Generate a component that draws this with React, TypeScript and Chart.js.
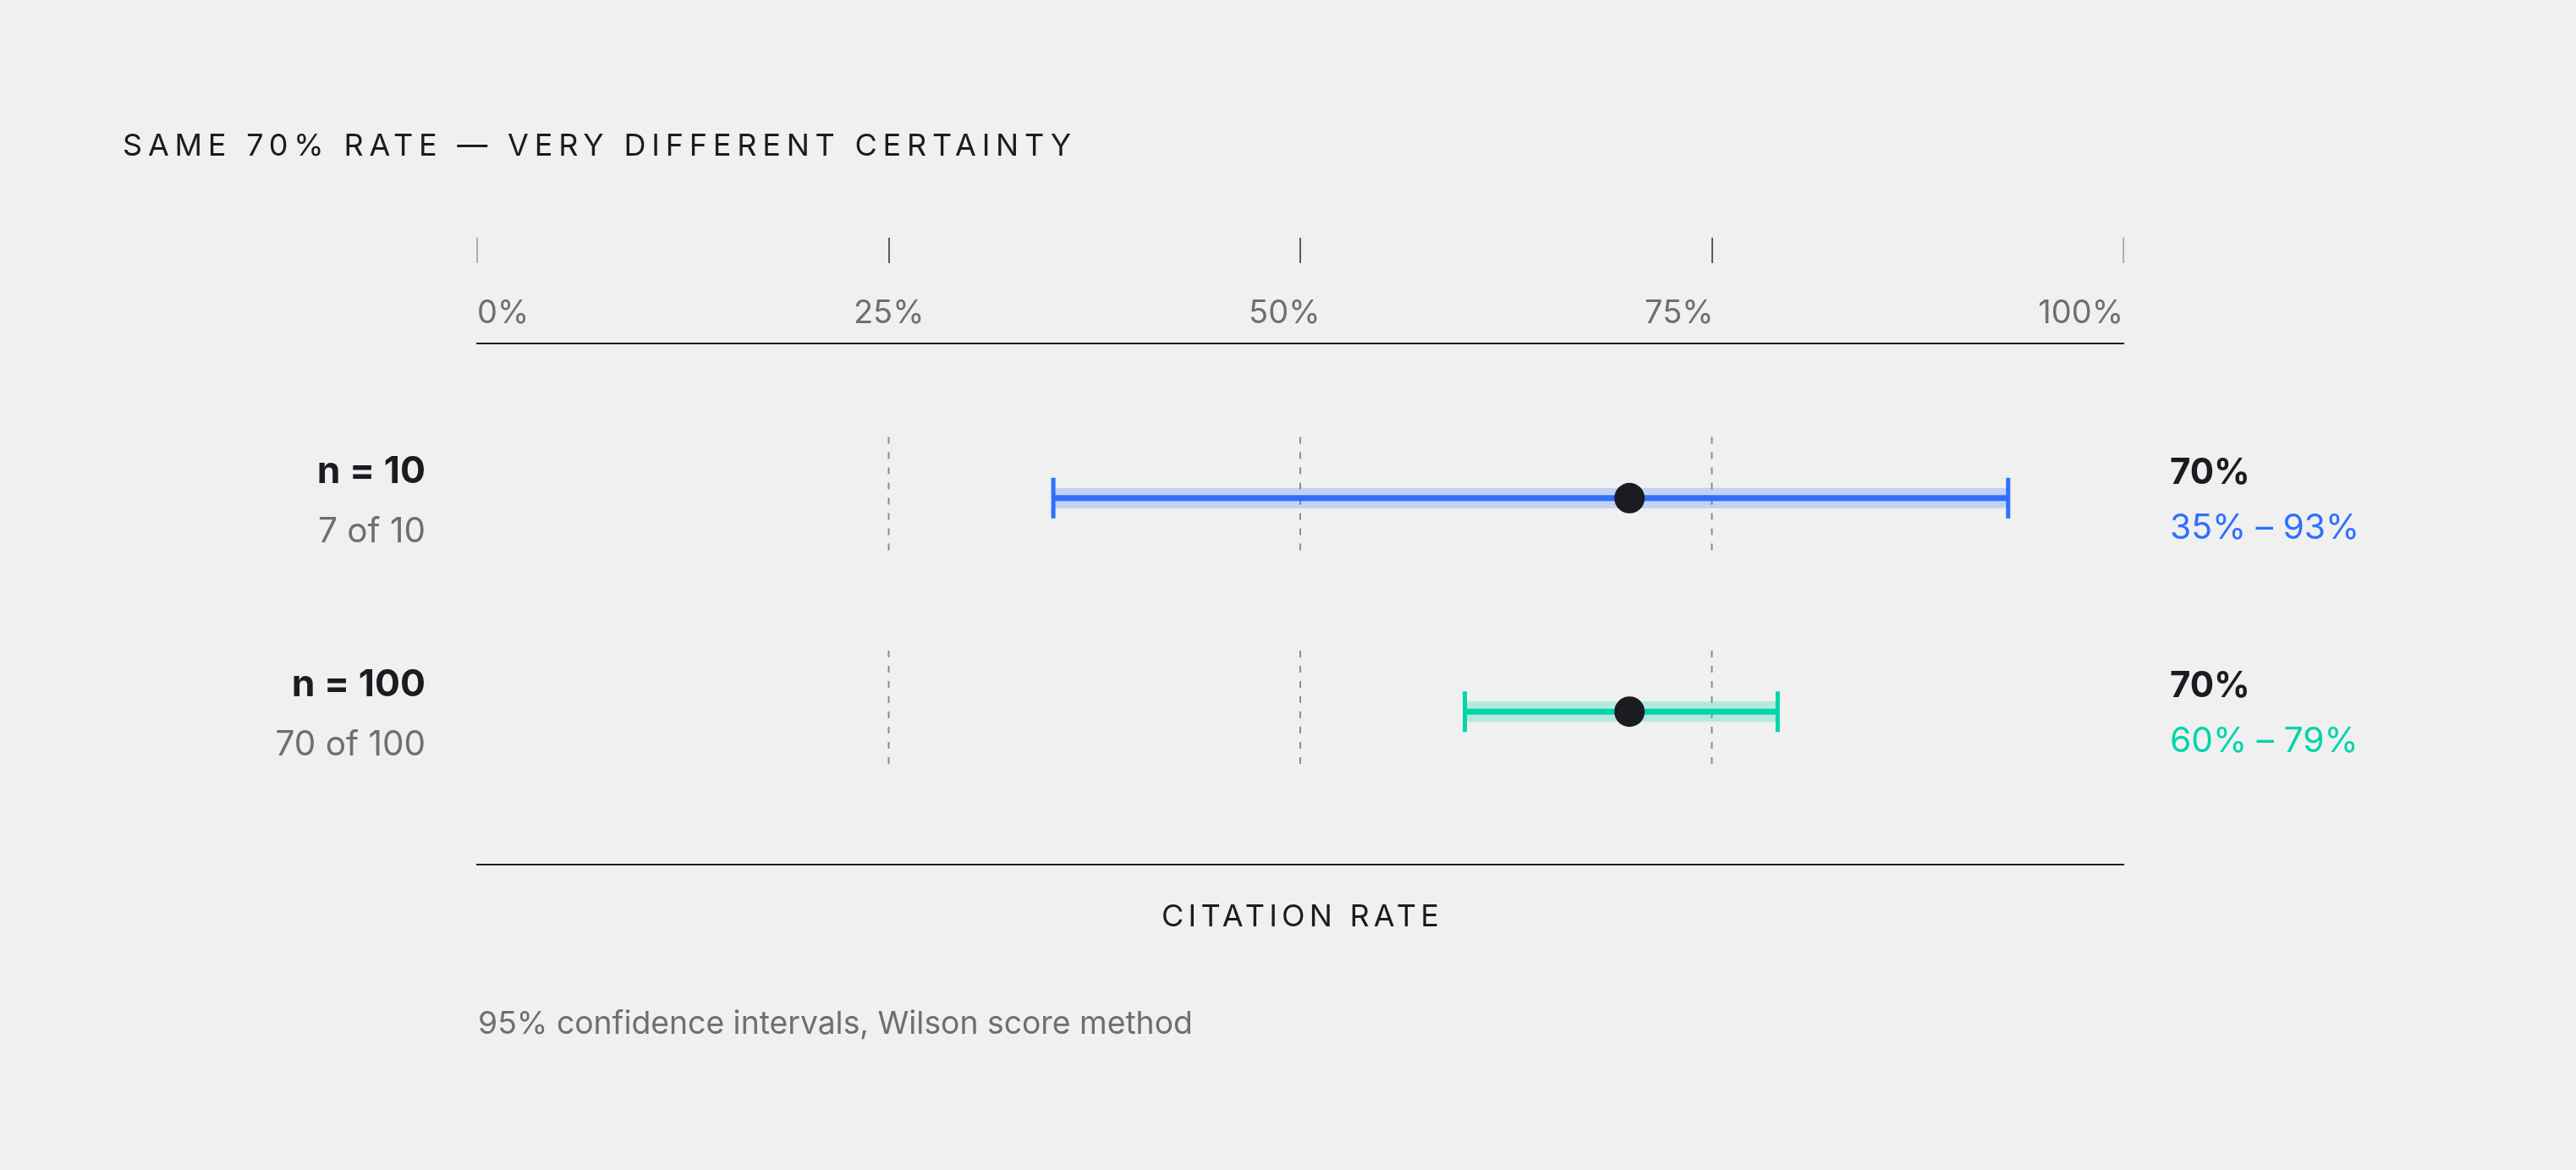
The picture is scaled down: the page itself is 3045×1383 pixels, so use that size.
import { useEffect, useRef } from "react";
import { Chart, registerables } from "chart.js";

Chart.register(...registerables);

// data
const rowLabels = ["n = 10", "n = 100"];
const rowCounts = ["7 of 10", "70 of 100"];
const pointRates = [70, 70];
const lowerBounds = [35, 60];
const upperBounds = [93, 79];
const axisTicks = [0, 25, 50, 75, 100];
const gridTicks = [25, 50, 75];

const rowColors = ["#2f6fff", "#00d4aa"];
const bandColors = ["rgba(47,111,255,0.23)", "rgba(0,212,170,0.25)"];

const TITLE = "SAME 70% RATE \u2014 VERY DIFFERENT CERTAINTY";
const AXIS_TITLE = "CITATION RATE";
const NOTE = "95% confidence intervals, Wilson score method";

const FONT = "Inter, 'Noto Sans', sans-serif";
const INK = "#1a1c22";
const MUTED = "#6e6e73";
const BG = "#f0f0f0";

const decor = {
  id: "decor",
  afterDraw(chart) {
    const { ctx, chartArea } = chart;
    const xs = chart.scales.x;
    const ys = chart.scales.y;
    ctx.save();
    ctx.textBaseline = "alphabetic";

    // title
    ctx.fillStyle = INK;
    ctx.font = `400 36px ${FONT}`;
    ctx.letterSpacing = "6.8px";
    ctx.textAlign = "left";
    ctx.fillText(TITLE, 145, 184);

    // x axis title, centred under the plot
    ctx.letterSpacing = "5.2px";
    const w = ctx.measureText(AXIS_TITLE).width - 5.2;
    const mid = (chartArea.left + chartArea.right) / 2;
    ctx.fillText(AXIS_TITLE, mid - w / 2, chartArea.bottom + 73);
    ctx.letterSpacing = "0px";

    // tick marks above the labels
    axisTicks.forEach((v, i) => {
      const px = Math.round(xs.getPixelForValue(v));
      const edge = i === 0 || i === axisTicks.length - 1;
      ctx.strokeStyle = edge ? "#9a9a9e" : "#5a5a60";
      ctx.lineWidth = edge ? 1.5 : 2;
      ctx.beginPath();
      ctx.moveTo(px, chartArea.top - 125);
      ctx.lineTo(px, chartArea.top - 95);
      ctx.stroke();
    });

    // tick labels spread edge to edge
    ctx.font = `400 38px ${FONT}`;
    ctx.fillStyle = MUTED;
    const labels = axisTicks.map((v) => `${v}%`);
    const widths = labels.map((t) => ctx.measureText(t).width);
    const span = chartArea.right - chartArea.left;
    const gap = (span - widths.reduce((a, b) => a + b, 0)) / (labels.length - 1);
    let cx = chartArea.left;
    labels.forEach((t, i) => {
      ctx.fillText(t, cx, chartArea.top - 24);
      cx += widths[i] + gap;
    });

    // row labels
    rowLabels.forEach((label, i) => {
      const py = ys.getPixelForValue(i);
      ctx.textAlign = "right";
      ctx.fillStyle = INK;
      ctx.font = `700 44.5px ${FONT}`;
      ctx.fillText(label, chartArea.left - 61, py - 18);
      ctx.fillStyle = MUTED;
      ctx.font = `400 40.5px ${FONT}`;
      ctx.fillText(rowCounts[i], chartArea.left - 61, py + 52);

      ctx.textAlign = "left";
      ctx.fillStyle = INK;
      ctx.font = `700 42px ${FONT}`;
      ctx.fillText(`${pointRates[i]}%`, chartArea.right + 55, py - 17);
      ctx.fillStyle = rowColors[i];
      ctx.font = `400 40.8px ${FONT}`;
      ctx.fillText(`${lowerBounds[i]}% \u2013 ${upperBounds[i]}%`, chartArea.right + 55, py + 48);
    });

    // footnote
    ctx.textAlign = "left";
    ctx.fillStyle = MUTED;
    ctx.font = `400 37.3px ${FONT}`;
    ctx.fillText(NOTE, chartArea.left + 1, chartArea.bottom + 200);

    ctx.restore();
  },
};

function buildDatasets() {
  const sets = [];
  rowLabels.forEach((_, i) => {
    gridTicks.forEach((t) => {
      sets.push({
        data: [{ x: t, y: i - 0.286 }, { x: t, y: i + 0.25 }],
        showLine: true,
        borderColor: "#8c8c90",
        borderWidth: 2,
        borderDash: [8, 10],
        pointRadius: 0,
        order: 5,
      });
    });
    const ends = [{ x: lowerBounds[i], y: i }, { x: upperBounds[i], y: i }];
    sets.push({
      data: ends,
      showLine: true,
      borderColor: bandColors[i],
      borderWidth: 24,
      borderCapStyle: "butt",
      pointRadius: 0,
      order: 4,
    });
    sets.push({
      data: ends,
      showLine: true,
      borderColor: rowColors[i],
      borderWidth: 7,
      borderCapStyle: "butt",
      pointRadius: 0,
      order: 3,
    });
    sets.push({
      data: ends,
      showLine: false,
      pointStyle: "line",
      pointRotation: 90,
      pointRadius: 24,
      pointHoverRadius: 24,
      pointBorderColor: rowColors[i],
      pointBorderWidth: 5,
      order: 2,
    });
  });
  sets.push({
    data: pointRates.map((r, i) => ({ x: r, y: i })),
    showLine: false,
    pointStyle: "circle",
    pointRadius: 18,
    pointHoverRadius: 18,
    pointBackgroundColor: INK,
    pointBorderWidth: 0,
    order: 1,
  });
  return sets;
}

export default function App() {
  const canvasRef = useRef(null);
  const chartRef = useRef(null);

  useEffect(() => {
    const ctx = canvasRef.current.getContext("2d");
    if (chartRef.current) chartRef.current.destroy();

    const border = { display: true, color: INK, width: 2 };

    chartRef.current = new Chart(ctx, {
      type: "scatter",
      data: { datasets: buildDatasets() },
      options: {
        animation: false,
        responsive: true,
        maintainAspectRatio: false,
        events: [],
        layout: { padding: { top: 406, bottom: 361, left: 564, right: 535 } },
        plugins: {
          legend: { display: false },
          tooltip: { enabled: false },
        },
        scales: {
          x: {
            type: "linear",
            position: "top",
            min: 0,
            max: 100,
            ticks: { display: false },
            grid: { display: false, drawTicks: false },
            border,
          },
          x2: {
            type: "linear",
            position: "bottom",
            min: 0,
            max: 100,
            ticks: { display: false },
            grid: { display: false, drawTicks: false },
            border,
          },
          y: {
            type: "linear",
            reverse: true,
            min: -0.724,
            max: 1.716,
            display: false,
          },
        },
      },
      plugins: [decor],
    });

    return () => chartRef.current?.destroy();
  }, []);

  return (
    <div style={{ position: "fixed", inset: 0, background: BG }}>
      <canvas ref={canvasRef}></canvas>
    </div>
  );
}
